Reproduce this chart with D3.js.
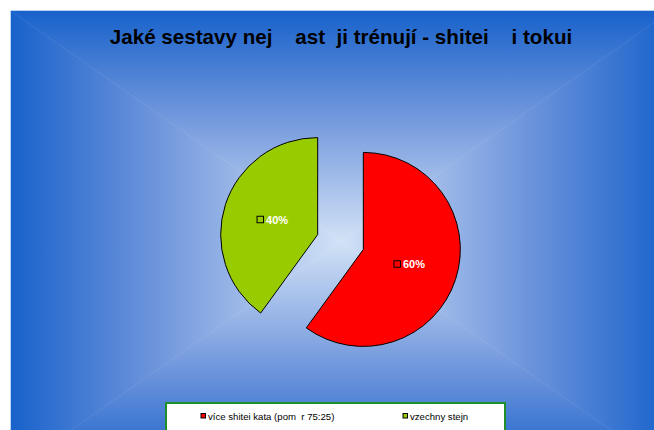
<!DOCTYPE html>
<html><head><meta charset="utf-8">
<script src="https://cdn.jsdelivr.net/npm/d3@7"></script>
<style>html,body{margin:0;padding:0;background:#fff;}svg{display:block;}</style>
</head><body>
<svg id="c" width="654" height="430"></svg>
<script>
const title = "Jaké sestavy nej    ast  ji trénují - shitei    i tokui";
const categories = ["více shitei kata (pom  r 75:25)", "vzechny stejn"];
const values = [60, 40];
const labels = ["60%", "40%"];
const colors = ["#FF0000", "#99CC00"];

const svg = d3.select("#c");
// chart area (extends beyond the window, as in the reference)
const area = {x0: 11, y0: 11, x1: 671, y1: 472};
const cx = (area.x0 + area.x1) / 2, cy = (area.y0 + area.y1) / 2;

const defs = svg.append("defs");
const edge = "#1862cb", mid = "#d2e2f6";
function grad(id, x1, y1, x2, y2) {
  const g = defs.append("linearGradient").attr("id", id)
    .attr("gradientUnits", "userSpaceOnUse")
    .attr("x1", x1).attr("y1", y1).attr("x2", x2).attr("y2", y2);
  g.append("stop").attr("offset", 0).attr("stop-color", edge);
  g.append("stop").attr("offset", 0.45).attr("stop-color", "#7096dc");
  g.append("stop").attr("offset", 1).attr("stop-color", mid);
}
grad("gt", cx, area.y0, cx, cy);
grad("gb", cx, area.y1, cx, cy);
grad("gl", area.x0, cy, cx, cy);
grad("gr", area.x1, cy, cx, cy);
const bg = svg.append("g");
const tri = (pts, f) => bg.append("path").attr("d", d3.line()(pts) + "Z").attr("fill", `url(#${f})`).attr("stroke", `url(#${f})`).attr("stroke-width", 0.6);
tri([[area.x0, area.y0], [area.x1, area.y0], [cx, cy]], "gt");
tri([[area.x0, area.y1], [area.x1, area.y1], [cx, cy]], "gb");
tri([[area.x0, area.y0], [area.x0, area.y1], [cx, cy]], "gl");
tri([[area.x1, area.y0], [area.x1, area.y1], [cx, cy]], "gr");

// title
svg.append("text").attr("x", 341).attr("y", 44)
  .attr("text-anchor", "middle")
  .attr("font-family", "Liberation Sans, Arial, sans-serif")
  .attr("font-weight", "bold").attr("font-size", 20.6)
  .style("white-space", "pre")
  .attr("fill", "#000").text(title);

// pie
const R = 97, explode = 24;
const pc = {x: 340.5, y: 242};
const pie = d3.pie().sort(null).startAngle(0).endAngle(2 * Math.PI);
const arcs = pie(values);
const arc = d3.arc().innerRadius(0).outerRadius(R);
const slices = svg.append("g").attr("transform", `translate(${pc.x},${pc.y})`);
arcs.forEach((a, i) => {
  const m = (a.startAngle + a.endAngle) / 2;
  const dx = Math.sin(m) * explode, dy = -Math.cos(m) * explode;
  const g = slices.append("g").attr("transform", `translate(${dx},${dy})`);
  g.append("path").attr("d", arc(a)).attr("fill", colors[i])
    .attr("stroke", "#000").attr("stroke-width", 1);
  const lr = 48;
  const lx = Math.sin(m) * lr, ly = -Math.cos(m) * lr;
  const lab = g.append("g").attr("transform", `translate(${lx},${ly})`);
  lab.append("rect").attr("x", -15).attr("y", -3.5).attr("width", 6.5).attr("height", 6.5)
    .attr("fill", colors[i]).attr("stroke", "#000").attr("stroke-width", 1);
  lab.append("text").attr("x", -6).attr("y", 4)
    .attr("font-family", "Liberation Sans, Arial, sans-serif")
    .attr("font-weight", "bold").attr("font-size", 11)
    .attr("fill", "#fff").text(labels[i]);
});

// legend
const lg = svg.append("g");
lg.append("rect").attr("x", 166).attr("y", 403).attr("width", 339).attr("height", 40)
  .attr("fill", "#fff").attr("stroke", "#1f8f2a").attr("stroke-width", 2);
const legX = d3.scalePoint().domain(categories).range([201, 403]);
categories.forEach((c, i) => {
  const x = legX(c);
  lg.append("rect").attr("x", x).attr("y", 413.5).attr("width", 4.5).attr("height", 4.5)
    .attr("fill", colors[i]).attr("stroke", "#000").attr("stroke-width", 1);
  lg.append("text").attr("x", x + 7).attr("y", 419.5)
    .attr("font-family", "Liberation Sans, Arial, sans-serif")
    .attr("font-size", 9.6).style("white-space", "pre")
    .attr("fill", "#000").text(c);
});
</script>
</body></html>
